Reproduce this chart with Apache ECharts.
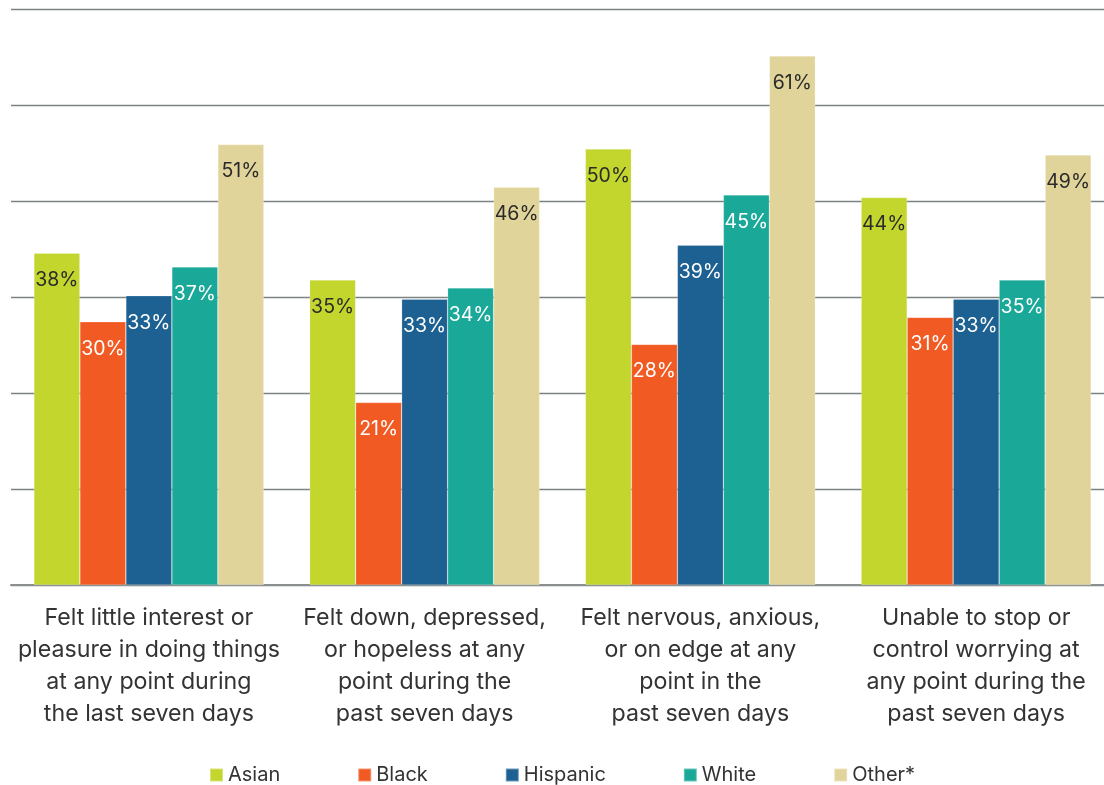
<!DOCTYPE html>
<html>
<head>
<meta charset="utf-8">
<script src="https://cdn.jsdelivr.net/npm/echarts@6/dist/echarts.min.js"></script>
<style>
  html, body { margin: 0; padding: 0; background: #fff; overflow: hidden; }
  /* plot runs slightly past the right edge of the picture */
  #chart { width: 1115px; height: 785px; }
</style>
</head>
<body>
<div id="chart"></div>
<script>
const categories = [
  'Felt little interest or\npleasure in doing things\nat any point during\nthe last seven days',
  'Felt down, depressed,\nor hopeless at any\npoint during the\npast seven days',
  'Felt nervous, anxious,\nor on edge at any\npoint in the\npast seven days',
  'Unable to stop or\ncontrol worrying at\nany point during the\npast seven days'
]
const groups = ['Asian', 'Black', 'Hispanic', 'White', 'Other*']
// bar heights as drawn in the picture
const asian = [38.2, 35.1, 50.2, 44.6]
const black = [30.3, 21.0, 27.7, 30.8]
const hispanic = [33.3, 32.9, 39.1, 32.9]
const white = [36.6, 34.2, 44.9, 35.1]
const other = [50.7, 45.8, 60.9, 49.5]
// percentages as printed on the bars
const asianLabels = [38, 35, 50, 44]
const blackLabels = [30, 21, 28, 31]
const hispanicLabels = [33, 33, 39, 33]
const whiteLabels = [37, 34, 45, 35]
const otherLabels = [51, 46, 61, 49]

const colors = ['#c2d62e', '#f15a22', '#1d6192', '#1aa898', '#e1d49a']
const labelColors = ['#2b2b2b', '#fff', '#fff', '#fff', '#2b2b2b']
const values = [asian, black, hispanic, white, other]
const printed = [asianLabels, blackLabels, hispanicLabels, whiteLabels, otherLabels]

const font = 'Inter, "Noto Sans", sans-serif'

const chart = echarts.init(document.getElementById('chart'))

chart.setOption({
  color: colors,
  textStyle: { fontFamily: font },
  grid: { left: 11, right: 1, top: 9, bottom: 200, containLabel: false },
  legend: {
    top: 760,
    left: 204,
    icon: 'rect',
    itemWidth: 13,
    itemHeight: 13,
    itemGap: 77,
    textStyle: { fontSize: 20, color: '#333', fontFamily: font },
    data: groups
  },
  xAxis: {
    type: 'category',
    data: categories,
    axisTick: { show: false },
    axisLine: { lineStyle: { color: '#8a8f8f', width: 2 } },
    axisLabel: {
      fontSize: 23.2,
      lineHeight: 32,
      color: '#333',
      margin: 17,
      interval: 0,
      fontFamily: font
    }
  },
  yAxis: {
    type: 'value',
    min: 0,
    max: 66.3,
    interval: 11.05,
    axisLabel: { show: false },
    axisLine: { show: false },
    axisTick: { show: false },
    splitLine: { lineStyle: { color: '#7d8383', width: 1.3 } }
  },
  series: groups.map((g, i) => ({
    name: g,
    type: 'bar',
    data: values[i],
    barGap: '0%',
    barCategoryGap: '16.6%',
    itemStyle: { color: colors[i], borderColor: 'rgba(255,255,255,0.35)', borderWidth: 0.6 },
    label: {
      show: true,
      position: 'insideTop',
      distance: 17,
      fontSize: 19.5,
      color: labelColors[i],
      fontFamily: font,
      formatter: p => printed[i][p.dataIndex] + '%'
    }
  }))
})
</script>
</body>
</html>
